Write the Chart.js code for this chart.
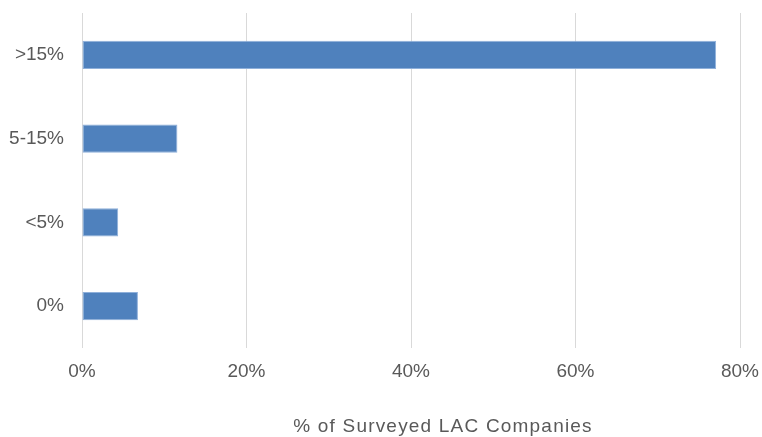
<!DOCTYPE html>
<html>
<head>
<meta charset="utf-8">
<script src="https://cdn.jsdelivr.net/npm/chart.js@4/dist/chart.umd.min.js"></script>
<style>
    html, body { margin: 0; padding: 0; background: #ffffff; }
    #wrap { width: 762px; height: 437px; position: relative; }
</style>
</head>
<body>
<div id="wrap"><canvas id="grafico"></canvas></div>
<script>
const categorias = [">15%", "5-15%", "<5%", "0%"];
const valores = [77.1, 11.6, 4.4, 6.8];
const ticksX = [0, 20, 40, 60, 80];
const tituloX = "% of Surveyed LAC Companies";

const corTexto = "#595959";
const fonte = "'Liberation Sans', Arial, sans-serif";

// título do eixo x desenhado à parte (fica deslocado para a direita no original)
const tituloEixo = {
    id: 'tituloEixo',
    afterDraw(chart) {
        const ctx = chart.ctx;
        ctx.save();
        ctx.fillStyle = corTexto;
        ctx.font = "19px " + fonte;
        ctx.letterSpacing = "1.2px";
        ctx.textAlign = "center";
        ctx.textBaseline = "middle";
        ctx.fillText(tituloX, 443, 427);
        ctx.restore();
    }
};

const ctx = document.getElementById('grafico').getContext('2d');
const chart = new Chart(ctx, {
    type: 'bar',
    data: {
        labels: categorias,
        datasets: [{
            data: valores,
            backgroundColor: '#4f81bd',
            borderColor: '#8fb0da',
            borderWidth: 1,
            borderSkipped: false,
            barPercentage: 0.34,
            categoryPercentage: 1
        }]
    },
    options: {
        indexAxis: 'y',
        responsive: true,
        maintainAspectRatio: false,
        animation: false,
        layout: { padding: { top: 13, right: 22, bottom: 0, left: 0 } },
        plugins: {
            legend: { display: false },
            tooltip: { enabled: false }
        },
        scales: {
            x: {
                min: 0,
                max: 80,
                afterFit: (scale) => {
                    scale.height = 89;
                    scale.paddingLeft = 0;
                    scale.paddingRight = 0;
                },
                afterBuildTicks: (scale) => { scale.ticks = ticksX.map(v => ({ value: v })); },
                grid: { color: '#d9d9d9', lineWidth: 1, drawTicks: false },
                border: { display: false },
                ticks: {
                    color: corTexto,
                    font: { family: fonte, size: 19 },
                    padding: 12,
                    maxRotation: 0,
                    callback: (v) => v + '%'
                }
            },
            y: {
                afterFit: (scale) => {
                    scale.width = 82;
                    scale.paddingTop = 0;
                    scale.paddingBottom = 0;
                },
                grid: { display: false, drawTicks: false },
                border: { display: false },
                ticks: {
                    color: corTexto,
                    font: { family: fonte, size: 19 },
                    padding: 18
                }
            }
        }
    },
    plugins: [tituloEixo]
});
</script>
</body>
</html>
